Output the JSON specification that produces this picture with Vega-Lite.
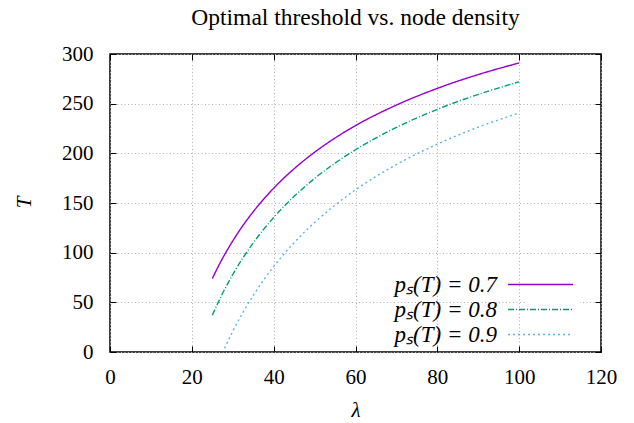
{
  "$schema": "https://vega.github.io/schema/vega-lite/v6.json",
  "width": 491,
  "height": 298,
  "autosize": {"type": "none"},
  "padding": {"left": 110, "top": 54, "right": 33, "bottom": 71},
  "background": "white",
  "config": {
    "font": "Liberation Serif",
    "view": {"stroke": "black", "strokeWidth": 1.5},
    "axis": {
      "domain": false,
      "ticks": true,
      "tickColor": "black",
      "tickSize": -6,
      "tickWidth": 1,
      "labelFlush": false,
      "labelFont": "Liberation Serif",
      "labelFontSize": 21,
      "labelColor": "black",
      "gridColor": "#b0b0b0",
      "gridDash": [1, 2.5],
      "gridWidth": 1,
      "titleFont": "Liberation Serif",
      "titleFontSize": 21,
      "titleFontStyle": "italic",
      "titleFontWeight": "normal",
      "titleColor": "black"
    }
  },
  "title": {
    "text": "Optimal threshold vs. node density",
    "font": "Liberation Serif",
    "fontSize": 23.5,
    "fontWeight": "normal",
    "color": "black",
    "offset": 14
  },
  "data": {
    "values": [
      {"lam": 25, "T": 74.0, "series": "pₛ(T) = 0.7"},
      {"lam": 27.5, "T": 94.2, "series": "pₛ(T) = 0.7"},
      {"lam": 30, "T": 111.8, "series": "pₛ(T) = 0.7"},
      {"lam": 32.5, "T": 127.4, "series": "pₛ(T) = 0.7"},
      {"lam": 35, "T": 141.2, "series": "pₛ(T) = 0.7"},
      {"lam": 40, "T": 164.9, "series": "pₛ(T) = 0.7"},
      {"lam": 45, "T": 184.5, "series": "pₛ(T) = 0.7"},
      {"lam": 50, "T": 201.1, "series": "pₛ(T) = 0.7"},
      {"lam": 55, "T": 215.4, "series": "pₛ(T) = 0.7"},
      {"lam": 60, "T": 227.9, "series": "pₛ(T) = 0.7"},
      {"lam": 70, "T": 248.6, "series": "pₛ(T) = 0.7"},
      {"lam": 80, "T": 265.4, "series": "pₛ(T) = 0.7"},
      {"lam": 90, "T": 279.3, "series": "pₛ(T) = 0.7"},
      {"lam": 100, "T": 291.0, "series": "pₛ(T) = 0.7"},
      {"lam": 25, "T": 37.0, "series": "pₛ(T) = 0.8"},
      {"lam": 27.5, "T": 58.9, "series": "pₛ(T) = 0.8"},
      {"lam": 30, "T": 78.0, "series": "pₛ(T) = 0.8"},
      {"lam": 32.5, "T": 94.8, "series": "pₛ(T) = 0.8"},
      {"lam": 35, "T": 109.8, "series": "pₛ(T) = 0.8"},
      {"lam": 40, "T": 135.4, "series": "pₛ(T) = 0.8"},
      {"lam": 45, "T": 156.7, "series": "pₛ(T) = 0.8"},
      {"lam": 50, "T": 174.7, "series": "pₛ(T) = 0.8"},
      {"lam": 55, "T": 190.1, "series": "pₛ(T) = 0.8"},
      {"lam": 60, "T": 203.6, "series": "pₛ(T) = 0.8"},
      {"lam": 70, "T": 226.1, "series": "pₛ(T) = 0.8"},
      {"lam": 80, "T": 244.3, "series": "pₛ(T) = 0.8"},
      {"lam": 90, "T": 259.3, "series": "pₛ(T) = 0.8"},
      {"lam": 100, "T": 272.0, "series": "pₛ(T) = 0.8"},
      {"lam": 28, "T": 3.7, "series": "pₛ(T) = 0.9"},
      {"lam": 30, "T": 20.8, "series": "pₛ(T) = 0.9"},
      {"lam": 32.5, "T": 39.9, "series": "pₛ(T) = 0.9"},
      {"lam": 35, "T": 56.9, "series": "pₛ(T) = 0.9"},
      {"lam": 40, "T": 86.0, "series": "pₛ(T) = 0.9"},
      {"lam": 45, "T": 110.0, "series": "pₛ(T) = 0.9"},
      {"lam": 50, "T": 130.4, "series": "pₛ(T) = 0.9"},
      {"lam": 55, "T": 147.9, "series": "pₛ(T) = 0.9"},
      {"lam": 60, "T": 163.2, "series": "pₛ(T) = 0.9"},
      {"lam": 70, "T": 188.7, "series": "pₛ(T) = 0.9"},
      {"lam": 80, "T": 209.3, "series": "pₛ(T) = 0.9"},
      {"lam": 90, "T": 226.3, "series": "pₛ(T) = 0.9"},
      {"lam": 100, "T": 240.7, "series": "pₛ(T) = 0.9"}
    ]
  },
  "layer": [
    {
      "mark": {"type": "line", "strokeWidth": 1.4, "interpolate": "monotone"},
      "encoding": {
        "x": {
          "field": "lam", "type": "quantitative",
          "scale": {"domain": [0, 120], "nice": false},
          "axis": {"values": [0, 20, 40, 60, 80, 100, 120], "title": "λ", "labelPadding": 20, "titleY": 58, "titleBaseline": "middle", "grid": true}
        },
        "y": {
          "field": "T", "type": "quantitative",
          "scale": {"domain": [0, 300], "nice": false},
          "axis": {"values": [0, 50, 100, 150, 200, 250, 300], "title": "T", "titleAngle": 270, "titleX": -86, "titleY": 148, "titleAlign": "center", "titleBaseline": "middle", "labelPadding": 23, "grid": true}
        },
        "color": {
          "field": "series", "type": "nominal",
          "scale": {"domain": ["pₛ(T) = 0.7", "pₛ(T) = 0.8", "pₛ(T) = 0.9"], "range": ["#9400d3", "#009e73", "#56b4e9"]},
          "legend": {"orient": "none", "legendX": 415, "legendY": 215, "title": null, "symbolType": "M-5,0H5", "symbolSize": 169, "symbolStrokeWidth": 1.4, "labelFontSize": 23, "labelFontStyle": "italic", "labelAlign": "right", "labelOffset": -55, "rowPadding": 1, "fillColor": "white", "padding": 4}
        },
        "strokeDash": {
          "field": "series", "type": "nominal",
          "scale": {"domain": ["pₛ(T) = 0.7", "pₛ(T) = 0.8", "pₛ(T) = 0.9"], "range": [[1, 0], [6, 2, 1, 2], [2, 3]]},
          "legend": {"orient": "none", "legendX": 415, "legendY": 215, "title": null, "symbolType": "M-5,0H5", "symbolSize": 169, "symbolStrokeWidth": 1.4, "labelFontSize": 23, "labelFontStyle": "italic", "labelAlign": "right", "labelOffset": -55, "rowPadding": 1, "fillColor": "white", "padding": 4}
        }
      }
    },
    {
      "mark": {"type": "point", "opacity": 0},
      "encoding": {
        "x": {
          "field": "lam", "type": "quantitative",
          "scale": {"domain": [0, 120], "nice": false},
          "axis": {"orient": "top", "values": [0, 20, 40, 60, 80, 100, 120], "labels": false, "title": null, "grid": false}
        },
        "y": {
          "field": "T", "type": "quantitative",
          "scale": {"domain": [0, 300], "nice": false},
          "axis": {"orient": "right", "values": [0, 50, 100, 150, 200, 250, 300], "labels": false, "title": null, "grid": false}
        }
      }
    }
  ],
  "resolve": {"axis": {"x": "independent", "y": "independent"}}
}
